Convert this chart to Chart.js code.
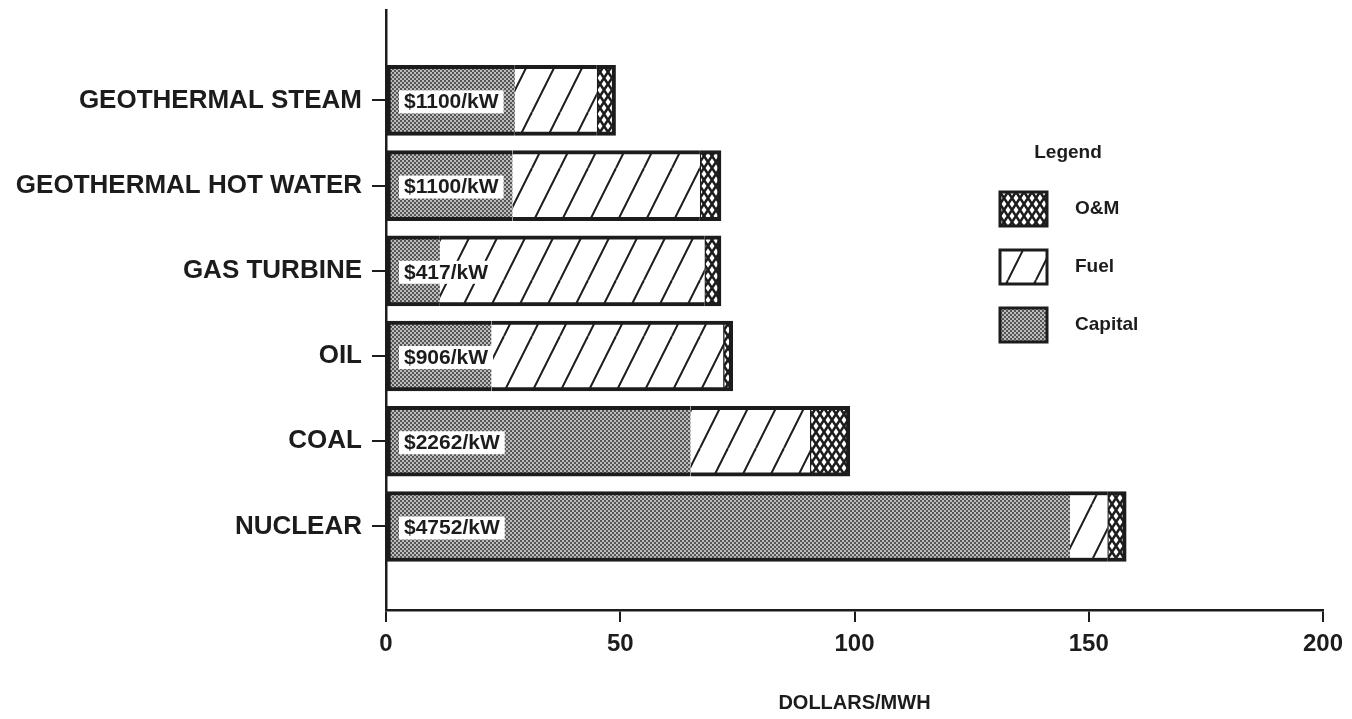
<!DOCTYPE html>
<html>
<head>
<meta charset="utf-8">
<script src="https://cdn.jsdelivr.net/npm/chart.js@4.4.1/dist/chart.umd.min.js"></script>
<style>
  html, body { margin: 0; padding: 0; background: #fff; }
  #wrap { width: 1352px; height: 719px; }
</style>
</head>
<body>
<div id="wrap"><canvas id="myChart"></canvas></div>
<script>
const categories = ['GEOTHERMAL STEAM', 'GEOTHERMAL HOT WATER', 'GAS TURBINE', 'OIL', 'COAL', 'NUCLEAR']
const capitalCost = ['$1100/kW', '$1100/kW', '$417/kW', '$906/kW', '$2262/kW', '$4752/kW']
const capital = [27.5, 27, 11.5, 22.5, 65, 146]
const fuel = [17.5, 40, 56.5, 49.5, 25.5, 8]
const om = [4, 4.5, 3.5, 2, 8.5, 4]

const FONT = '"Liberation Sans", Arial, Helvetica, sans-serif'
const INK = '#1c1c1c'

function makeTile(w, h, draw){
    const c = document.createElement('canvas')
    c.width = w
    c.height = h
    draw(c.getContext('2d'), w, h)
    return c.getContext('2d').createPattern(c, 'repeat')
}

const capitalFill = makeTile(4, 4, (g) => {
    g.fillStyle = '#bdbdbd'
    g.fillRect(0, 0, 4, 4)
    g.fillStyle = '#555'
    g.fillRect(0, 0, 2, 2)
    g.fillRect(2, 2, 2, 2)
})

const fuelFill = makeTile(28, 56, (g, w, h) => {
    g.fillStyle = '#fff'
    g.fillRect(0, 0, w, h)
    g.strokeStyle = INK
    g.lineWidth = 2
    for (const dx of [-w, 0, w]) {
        g.beginPath()
        g.moveTo(dx, h)
        g.lineTo(dx + w, 0)
        g.stroke()
    }
})

const omFill = makeTile(8, 12, (g, w, h) => {
    g.fillStyle = '#fff'
    g.fillRect(0, 0, w, h)
    g.strokeStyle = INK
    g.lineWidth = 2.6
    for (const dx of [-w, 0, w]) {
        g.beginPath()
        g.moveTo(dx, 0)
        g.lineTo(dx + w, h)
        g.moveTo(dx, h)
        g.lineTo(dx + w, 0)
        g.stroke()
    }
})

function toPoints(values){
    return values.map((v, i) => { return {x: v, y: categories.length - 1 - i} })
}

const capitalLabels = {
    id: 'capitalLabels',
    afterDatasetsDraw(chart){
        const ctx = chart.ctx
        const meta = chart.getDatasetMeta(0)
        ctx.save()
        ctx.font = 'bold 21px ' + FONT
        ctx.textBaseline = 'middle'
        meta.data.forEach((bar, i) => {
            const text = capitalCost[i]
            const w = ctx.measureText(text).width
            const x = bar.base + 12
            ctx.fillStyle = '#fff'
            ctx.fillRect(x, bar.y - 10, w + 10, 23)
            ctx.fillStyle = INK
            ctx.fillText(text, x + 5, bar.y + 2)
        })
        ctx.restore()
    }
}

const boxLegend = {
    id: 'boxLegend',
    afterDraw(chart){
        const ctx = chart.ctx
        const items = [['O&M', omFill], ['Fuel', fuelFill], ['Capital', capitalFill]]
        ctx.save()
        ctx.fillStyle = INK
        ctx.font = 'bold 19px ' + FONT
        ctx.textAlign = 'center'
        ctx.textBaseline = 'middle'
        ctx.fillText('Legend', 1068, 153)
        ctx.textAlign = 'left'
        items.forEach((item, i) => {
            const top = 192 + i * 58
            ctx.fillStyle = item[1]
            ctx.fillRect(1000, top, 47, 34)
            ctx.strokeStyle = INK
            ctx.lineWidth = 3
            ctx.strokeRect(1000, top, 47, 34)
            ctx.fillStyle = INK
            ctx.fillText(item[0], 1075, top + 17)
        })
        ctx.restore()
    }
}

const ctx = document.getElementById('myChart').getContext('2d')
const myChart = new Chart(ctx, {
    type: 'bar',
    data: {
        datasets: [
            {
                label: 'Capital',
                data: toPoints(capital),
                backgroundColor: capitalFill,
                borderColor: INK,
                borderWidth: {top: 4, bottom: 4, left: 4, right: 0},
                borderSkipped: false,
                stack: 'cost'
            },
            {
                label: 'Fuel',
                data: toPoints(fuel),
                backgroundColor: fuelFill,
                borderColor: INK,
                borderWidth: {top: 4, bottom: 4, left: 0, right: 0},
                borderSkipped: false,
                stack: 'cost'
            },
            {
                label: 'O&M',
                data: toPoints(om),
                backgroundColor: omFill,
                borderColor: INK,
                borderWidth: {top: 4, bottom: 4, left: 1.5, right: 4},
                borderSkipped: false,
                stack: 'cost'
            }
        ]
    },
    options: {
        indexAxis: 'y',
        responsive: true,
        maintainAspectRatio: false,
        animation: false,
        barThickness: 70,
        layout: { padding: {top: 10, right: 29, left: 0, bottom: 0} },
        plugins: {
            legend: { display: false },
            tooltip: { enabled: false }
        },
        scales: {
            x: {
                type: 'linear',
                stacked: true,
                min: 0,
                max: 200,
                ticks: {
                    stepSize: 50,
                    color: INK,
                    padding: 8,
                    font: { family: FONT, size: 24, weight: 'bold' }
                },
                grid: { drawOnChartArea: false, color: INK, lineWidth: 2, tickLength: 12 },
                border: { color: INK, width: 2.5 },
                title: {
                    display: true,
                    text: 'DOLLARS/MWH',
                    color: INK,
                    padding: {top: 0, bottom: 4},
                    font: { family: FONT, size: 20, weight: 'bold' }
                },
                afterFit(scale){ scale.height = 109 }
            },
            y: {
                type: 'linear',
                min: -0.98,
                max: 6.06,
                offset: false,
                ticks: {
                    stepSize: 1,
                    color: INK,
                    padding: 10,
                    font: { family: FONT, size: 26, weight: 'bold' },
                    callback: (v) => categories[categories.length - 1 - v]
                },
                afterBuildTicks(scale){
                    const ticks = []
                    categories.forEach((c, i) => ticks.push({value: i}))
                    scale.ticks = ticks
                },
                grid: { offset: false, drawOnChartArea: false, color: INK, lineWidth: 2, tickLength: 14 },
                border: { color: INK, width: 2.5 },
                afterFit(scale){
                    scale.width = 386
                    scale.paddingTop = 0
                    scale.paddingBottom = 0
                }
            }
        }
    },
    plugins: [capitalLabels, boxLegend]
})
</script>
</body>
</html>
